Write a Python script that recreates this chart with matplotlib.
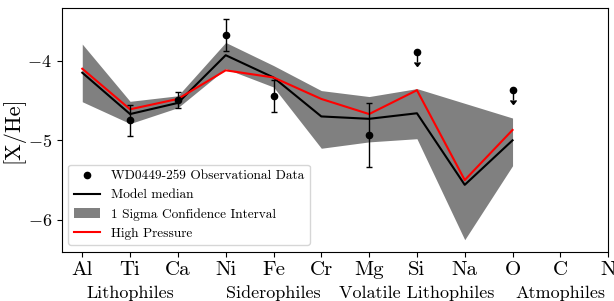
import matplotlib
matplotlib.use("Agg")
import matplotlib.pyplot as plt
from matplotlib.transforms import blended_transform_factory

plt.rcParams['font.family'] = 'cmr10'
plt.rcParams['mathtext.fontset'] = 'cm'
plt.rcParams['axes.formatter.use_mathtext'] = True

elements = ['Al', 'Ti', 'Ca', 'Ni', 'Fe', 'Cr', 'Mg', 'Si', 'Na', 'O', 'C', 'N']
model_elements = ['Al', 'Ti', 'Ca', 'Ni', 'Fe', 'Cr', 'Mg', 'Si', 'Na', 'O']
median = [-4.15, -4.67, -4.53, -3.93, -4.21, -4.70, -4.73, -4.66, -5.56, -5.00]
high_pressure = [-4.10, -4.61, -4.48, -4.12, -4.21, -4.48, -4.67, -4.37, -5.50, -4.87]
sigma_upper = [-3.79, -4.51, -4.44, -3.77, -4.06, -4.375, -4.45, -4.35, -4.535, -4.72]
sigma_lower = [-4.515, -4.79, -4.59, -4.10, -4.33, -5.10, -5.02, -4.98, -6.25, -5.32]

obs_elements = ['Ti', 'Ca', 'Ni', 'Fe', 'Mg']
obs_values = [-4.75, -4.49, -3.68, -4.445, -4.93]
obs_errors = [0.2, 0.1, 0.2, 0.2, 0.4]
limit_elements = ['Si', 'O']
limit_values = [-3.895, -4.37]

groups = ['Lithophiles', 'Siderophiles', 'Volatile Lithophiles', 'Atmophiles']
group_centres = ['Ti', 'Fe', 'Si', 'C']

idx = {e: i for i, e in enumerate(elements)}
mx = [idx[e] for e in model_elements]
ox = [idx[e] for e in obs_elements]
lx = [idx[e] for e in limit_elements]

fig = plt.figure(figsize=(6.14, 3.01), dpi=100)
ax = fig.add_axes([0.1005, 0.164, 0.890, 0.809])

ax.fill_between(mx, sigma_lower, sigma_upper, color='grey', lw=0,
                label='1 Sigma Confidence Interval', zorder=1)
ax.plot(mx, median, color='black', lw=1.5, label='Model median', zorder=2)
ax.plot(mx, high_pressure, color='red', lw=1.5, label='High Pressure', zorder=3)
ax.errorbar(ox, obs_values, yerr=obs_errors, fmt='none', ecolor='black',
            color='black', elinewidth=1.0, capsize=2, zorder=4)
ax.errorbar(lx, limit_values, yerr=0.12, uplims=True, fmt='none',
            ecolor='black', color='black', elinewidth=1.0, capsize=2, zorder=4)
ax.plot(ox + lx, obs_values + limit_values, 'o', color='black', ms=4.5,
        ls='none', label='WD0449-259 Observational Data', zorder=5)

ax.set_xticks(range(len(elements)))
ax.set_xticklabels(elements, fontsize=15)
ax.tick_params(axis='y', labelsize=13)
ax.set_xlim(-0.43, 11)
ax.set_ylim(-6.40, -3.338)
ax.set_yticks([-6, -5, -4])
ax.set_ylabel('[X/He]', fontsize=16, labelpad=2)

trans = blended_transform_factory(ax.transData, ax.transAxes)
for g, c in zip(groups, group_centres):
    ax.text(idx[c], -0.19, g, transform=trans, ha='center', va='baseline', fontsize=13)

handles, labels = ax.get_legend_handles_labels()
order = ['WD0449-259 Observational Data', 'Model median',
         '1 Sigma Confidence Interval', 'High Pressure']
hmap = dict(zip(labels, handles))
ax.legend([hmap[l] for l in order], order, loc='lower left', fontsize=9.6)

fig.savefig('out.png', dpi=100)
